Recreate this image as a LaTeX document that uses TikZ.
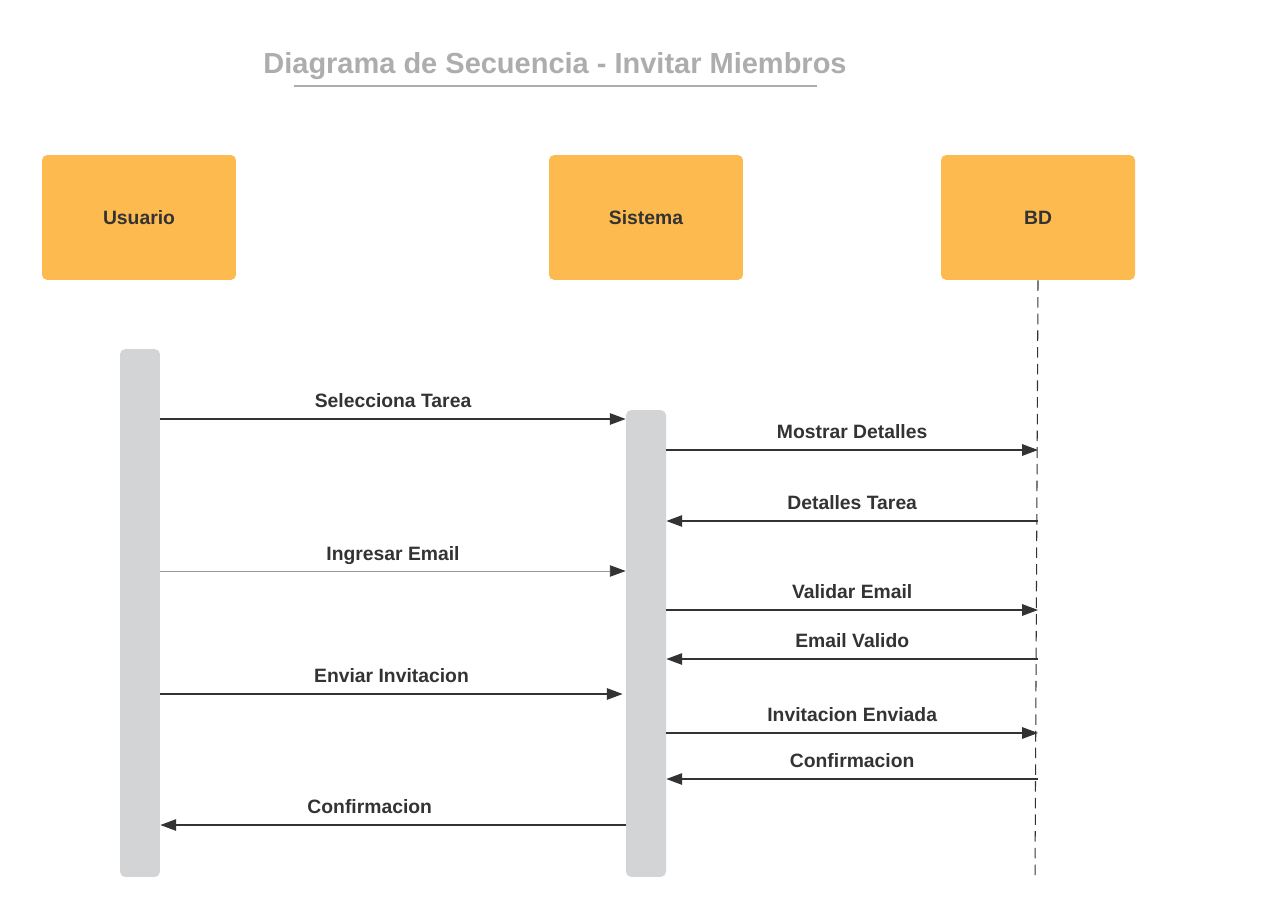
\documentclass[tikz,border=0pt]{standalone}
\usepackage{fontspec}
\setmainfont{Liberation Sans}
\usepackage{tikz}
\usetikzlibrary{arrows.meta}
\definecolor{boxorange}{HTML}{FDBA4F}
\definecolor{bargray}{HTML}{D3D4D6}
\definecolor{titlegray}{HTML}{ADADAD}
\definecolor{textdark}{HTML}{333333}

\begin{document}
\begin{tikzpicture}[x=0.02cm, y=-0.02cm,
  actor/.style={fill=boxorange, rounded corners=3pt, minimum width=3.88cm, minimum height=2.5cm,
    font=\bfseries\fontsize{11}{13}\selectfont, text=textdark},
  bar/.style={fill=bargray, rounded corners=3pt, minimum width=0.8cm, inner sep=0pt},
  msg/.style={line width=0.8pt, textdark, -{Triangle[length=9pt,width=6.5pt,color=textdark]}},
  lbl/.style={above=4pt, inner sep=0pt, text height=8pt, text depth=2pt,
    font=\bfseries\fontsize{11}{13}\selectfont, text=textdark}]
\useasboundingbox (0,0) rectangle (1280,918);
\fill[white] (0,0) rectangle (1280,918);

% title
\node[font=\bfseries\fontsize{16.5}{20}\selectfont, text=titlegray] (title) at (555,66) {Diagrama de Secuencia - Invitar Miembros};
\draw[titlegray, line width=1.2pt] (294,86) -- (817,86);

% actors
\node[actor] (usuario) at (139,217.5) {Usuario};
\node[actor] (sistema) at (646,217.5) {Sistema};
\node[actor] (bd) at (1038,217.5) {BD};

% lifelines
\node[bar, minimum height=10.56cm] (ubar) at (140,613) {};
\node[bar, minimum height=9.34cm] (sbar) at (646,643.5) {};
\coordinate (bdend) at (1035,877);
\draw[textdark, line width=0.6pt, dash pattern=on 6pt off 3.5pt] (bd.south) -- (bdend);

% messages
\draw[msg] (ubar.east |- 0,419) -- node[lbl] {Selecciona Tarea} (sbar.west |- 0,419);
\draw[msg] (sbar.east |- 0,450) -- node[lbl] {Mostrar Detalles} (bd.south |- 0,450);
\draw[msg] (bd.south |- 0,521) -- node[lbl] {Detalles Tarea} (sbar.east |- 0,521);
\draw[msg, line width=0.5pt, draw=gray!80] (ubar.east |- 0,571) -- node[lbl] {Ingresar Email} (sbar.west |- 0,571);
\draw[msg] (sbar.east |- 0,610) -- node[lbl] {Validar Email} (bd.south |- 0,610);
\draw[msg] (bd.south |- 0,659) -- node[lbl] {Email Valido} (sbar.east |- 0,659);
\draw[msg] (ubar.east |- 0,694) -- node[lbl] {Enviar Invitacion} ([xshift=-0.06cm]sbar.west |- 0,694);
\draw[msg] (sbar.east |- 0,733) -- node[lbl] {Invitacion Enviada} (bd.south |- 0,733);
\draw[msg] (bd.south |- 0,779) -- node[lbl] {Confirmacion} (sbar.east |- 0,779);
\draw[msg] (sbar.west |- 0,825) -- node[lbl, pos=0.55] {Confirmacion} (ubar.east |- 0,825);

\end{tikzpicture}
\end{document}
